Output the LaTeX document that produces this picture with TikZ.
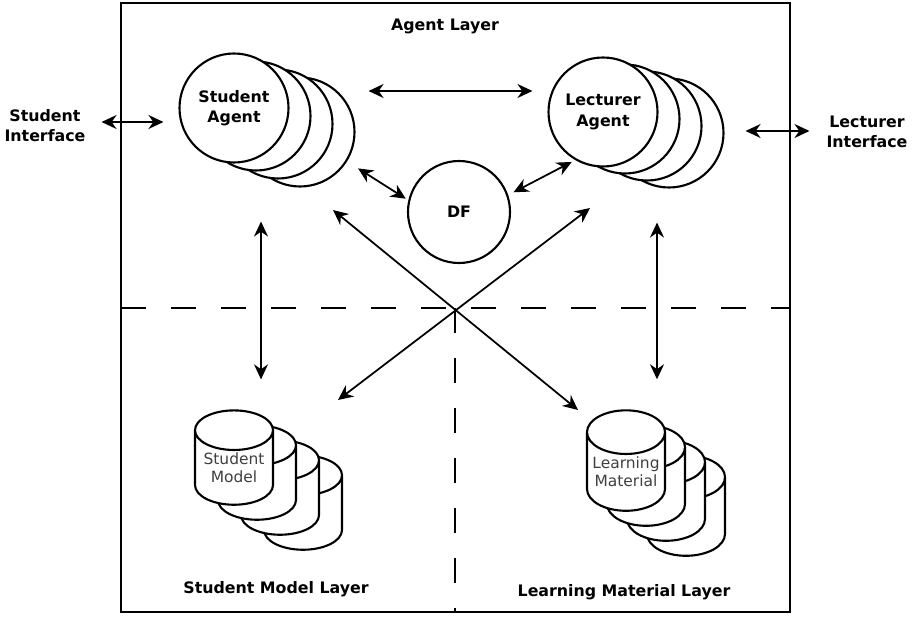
\documentclass[tikz,border=0pt]{standalone}
\usepackage{fontspec}
\setmainfont{DejaVu Sans}
\usepackage{tikz}
\usetikzlibrary{arrows.meta, positioning, shapes.geometric, calc}

\begin{document}
\begin{tikzpicture}[
  font=\fontsize{9}{11.5}\selectfont\bfseries,
  agent/.style={circle, draw, line width=1.2pt, fill=white, inner sep=0pt,
                minimum size=2.18cm, align=center},
  dbase/.style={cylinder, shape border rotate=90, aspect=0.65, draw, line width=1.2pt,
                fill=white, minimum width=1.56cm, minimum height=1.2cm,
                inner xsep=0pt, inner ysep=1pt, align=center,
                font=\fontsize{8.8}{10.5}\selectfont, text=black!75},
  lbl/.style={align=center, inner sep=1pt},
  sep/.style={line width=1.1pt, dash pattern=on 0.5cm off 0.5cm},
  arr/.style={{Stealth[length=3mm, width=2.8mm]}-{Stealth[length=3mm, width=2.8mm]}, line width=1pt}
]
\useasboundingbox (0,0) rectangle (18.28,12.32);
%% frame and layer borders
\draw[line width=1.5pt] (2.42,0.08) rectangle (15.80,12.26);
\draw[sep] (2.42,6.16) -- (15.80,6.16);
\draw[sep] (9.10,6.16) -- (9.10,0.08);
%% layer names
\node[lbl] (l_agent) at (8.90,11.80) {Agent Layer};
\node[lbl] (l_smod)  at (5.52,0.54)  {Student Model Layer};
\node[lbl] (l_lmat)  at (12.48,0.48) {Learning Material Layer};
%% agents (stacked copies, back to front)
\foreach \i in {3,2,1}
  \node[agent] (sa\i) at ($(4.68,10.16)+\i*(0.44,-0.16)$) {};
\node[agent] (sa) at (4.68,10.16) {Student\\Agent};
\foreach \i in {3,2,1}
  \node[agent] (la\i) at ($(12.06,10.08)+\i*(0.44,-0.14)$) {};
\node[agent] (la) at (12.06,10.08) {Lecturer\\Agent};
\node[agent, minimum size=2.04cm] (df) at (9.18,8.08) {DF};
%% databases
\foreach \i in {3,2,1}
  \node[dbase] (sm\i) at ($(4.68,2.96)+\i*(0.46,-0.30)$) {\phantom{Student}\\\phantom{Model}};
\node[dbase] (sm) at (4.68,2.96) {Student\\Model};
\foreach \i in {3,2,1}
  \node[dbase] (lm\i) at ($(12.52,2.88)+\i*(0.40,-0.30)$) {\phantom{Learning}\\\phantom{Material}};
\node[dbase] (lm) at (12.52,2.88) {Learning\\Material};
%% interfaces
\node[lbl] (si) at (0.90,9.80) {Student\\Interface};
\node[lbl] (li) at (17.34,9.68) {Lecturer\\Interface};
%% arrows
\draw[arr, shorten <=0.28cm, shorten >=0.30cm]
  ([yshift=0.08cm]si.east) -- ([yshift=0.08cm]si.east -| sa.west);
\draw[arr, shorten <=0.42cm, shorten >=0.30cm]
  ([yshift=0.04cm]la3.east -| la3.east) -- ([yshift=0.04cm]la3.east -| li.west);
\draw[arr, shorten <=0.26cm, shorten >=0.30cm]
  ([yshift=0.34cm]sa.east -| sa3.east) -- ([yshift=0.34cm]sa.east -| la.west);
\draw[arr, shorten <=0.26cm, shorten >=0.06cm] (sa3.-32) -- (df.167);
\draw[arr, shorten <=0.12cm, shorten >=0.08cm] (df.19) -- (la.240);
\draw[arr, shorten <=1.16cm, shorten >=0.60cm]
  ([xshift=0.54cm]sa.south) -- ([xshift=0.54cm]sa.south |- sm.north);
\draw[arr, shorten <=1.10cm, shorten >=0.60cm]
  ([xshift=1.08cm]la.south) -- ([xshift=1.08cm]la.south |- lm.north);
\draw[arr] ($(sa3)+(0.66,-1.56)$) -- ($(lm)+(-0.96,1.24)$);
\draw[arr] ($(la)+(-0.26,-1.92)$) -- ($(sm)+(2.08,1.36)$);
\end{tikzpicture}
\end{document}
